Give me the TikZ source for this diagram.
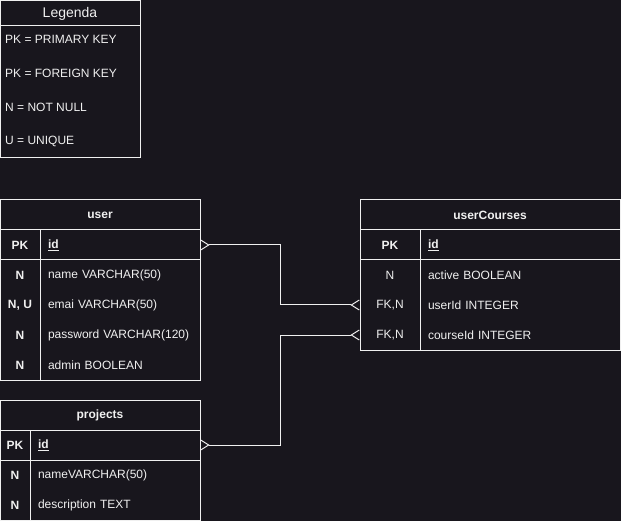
\documentclass[tikz,border=0pt]{standalone}
\usepackage{fontspec}
\setmainfont{Liberation Sans}
\usetikzlibrary{arrows.meta}
\definecolor{bgdark}{RGB}{24,22,29}
\definecolor{inkwhite}{RGB}{240,240,240}
\tikzstyle{tbl} = [draw=inkwhite, line width=1pt]
\tikzstyle{txt} = [text=inkwhite, inner sep=0pt, font=\fontsize{12}{14}\selectfont]
\tikzstyle{keytxt} = [txt, font=\fontsize{12}{14}\selectfont\bfseries]
\tikzstyle{title} = [txt, font=\fontsize{12}{14}\selectfont\bfseries]
\tikzstyle{field} = [txt, minimum height=30pt, align=left]
\tikzstyle{rel} = [draw=inkwhite, line width=1pt, {Straight Barb[reversed,length=8pt,width=10pt]}-{Straight Barb[reversed,length=8pt,width=10pt]}]

\begin{document}
\begin{tikzpicture}[x=1pt,y=-1pt]

\fill[bgdark] (0,0) rectangle (621,521);
\useasboundingbox (0,0) rectangle (621,521);

% legend
\draw[tbl] (0.5,0.5) rectangle (140,158);
\draw[tbl] (0.5,26) -- (140,26);
\node[txt, font=\fontsize{14}{16}\selectfont] (legend) at (70,13.5) {Legenda};
\foreach \i/\t in {0/PK = PRIMARY KEY, 1/PK = FOREIGN KEY, 2/N = NOT NULL, 3/U = UNIQUE}
{
\node[txt, anchor=west] (legend-\i) at (5,39.5+34*\i) {\t};
}

% user
\draw[tbl] (0.5,200) rectangle (200,380);
\draw[tbl] (0.5,230) -- (200,230);
\draw[tbl] (0.5,260) -- (200,260);
\draw[tbl] (40,230) -- (40,380);
\node[title] (user) at (100,215.5) {user};
\node[keytxt] (user-pk) at (20,245.5) {PK};
\node[field, text width=152pt] (user-id) at (124,245) {\textbf{\underline{id}}};
\foreach \i/\k/\f in {1/N/name VARCHAR(50), 2/{N, U}/emai VARCHAR(50), 3/N/password VARCHAR(120), 4/N/admin BOOLEAN}
{
\node[keytxt] (user-k\i) at (20,245.5+30*\i) {\k};
\node[field, text width=152pt] (user-f\i) at (124,245.5+30*\i) {\f};
}

% projects
\draw[tbl] (0.5,400) rectangle (200,520);
\draw[tbl] (0.5,430) -- (200,430);
\draw[tbl] (0.5,460) -- (200,460);
\draw[tbl] (30,430) -- (30,520);
\node[title] (projects) at (100,415.5) {projects};
\node[keytxt] (projects-pk) at (15,445.5) {PK};
\node[field, text width=162pt] (projects-id) at (119,445) {\textbf{\underline{id}}};
\foreach \i/\k/\f in {1/N/nameVARCHAR(50), 2/N/description TEXT}
{
\node[keytxt] (projects-k\i) at (15,445.5+30*\i) {\k};
\node[field, text width=162pt] (projects-f\i) at (119,445.5+30*\i) {\f};
}

% userCourses
\draw[tbl] (360,200) rectangle (620,350);
\draw[tbl] (360,230) -- (620,230);
\draw[tbl] (360,260) -- (620,260);
\draw[tbl] (420,230) -- (420,350);
\node[title] (uc) at (490,215.5) {userCourses};
\node[keytxt, minimum width=60pt] (uc-pk) at (390,245.5) {PK};
\node[field, text width=192pt] (uc-id) at (524,245.5) {\textbf{\underline{id}}};
\foreach \i/\k/\f in {1/N/active BOOLEAN, 2/{FK,N}/userId INTEGER, 3/{FK,N}/courseId INTEGER}
{
\node[txt, minimum width=60pt] (uc-k\i) at (390,245+30*\i) {\k};
\node[field, text width=192pt] (uc-f\i) at (524,245.5+30*\i) {\f};
}

% relations
\draw[rel] (user-id.east) -- ++(80,0) |- (uc-k2.west);
\draw[rel] (projects-id.east) -- ++(80,0) |- (uc-k3.west);

\end{tikzpicture}
\end{document}
